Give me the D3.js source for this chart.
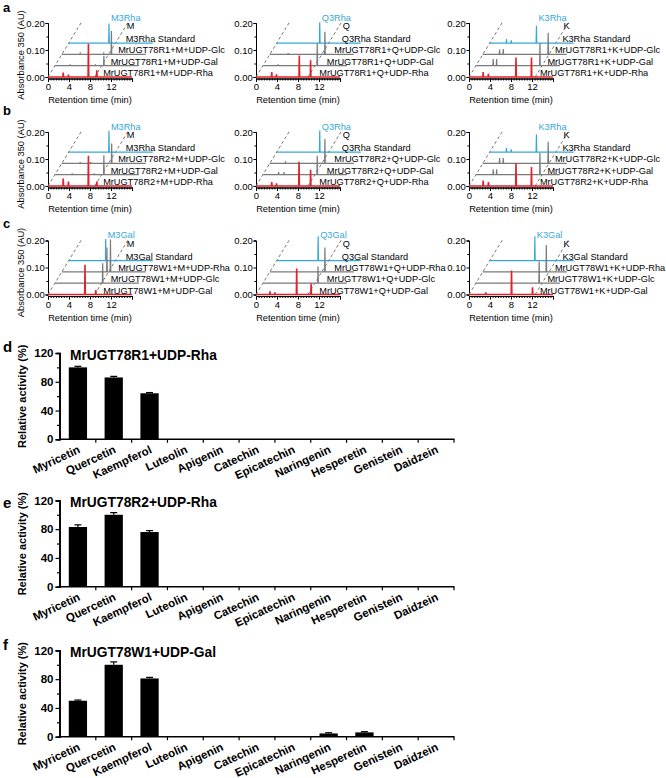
<!DOCTYPE html>
<html><head><meta charset="utf-8">
<script src="https://cdn.jsdelivr.net/npm/d3@7"></script>
<style>body{margin:0;background:#fff} text{font-family:"Liberation Sans",Arial,sans-serif}</style>
</head><body><svg id="c" width="666" height="778"></svg>
<script>
// ---------- chromatogram data ----------
const rowLetters = ["a","b","c"];
const enzymes = ["MrUGT78R1","MrUGT78R2","MrUGT78W1"];
const substrates = ["M","Q","K"];
const sugarLevels = [["Rha","Gal","Glc"],["Rha","Gal","Glc"],["Gal","Glc","Rha"]];
const productSugar = ["Rha","Rha","Gal"];
const timeTicks = [0,4,8,12];
const absTicks = [0,0.1,0.2];
const absTickLabels = ["0.00","0.10","0.20"];
// each: [level0 red reaction, level1 gray, level2 gray, level3 blue standard]; peaks as [time (min), absorbance (AU)]
const peaksA_M = [[[2.9,0.016],[3.9,0.009],[7.7,0.123],[9.3,0.025]],[[2.9,0.005],[7.7,0.005],[9.33,0.037]],[[3.5,0.004],[8.0,0.004],[9.45,0.087]],[[7.67,0.073]]];
const peaksA_Q = [[[3.0,0.018],[3.9,0.01],[8.25,0.08],[10.4,0.062]],[[2.9,0.005],[10.35,0.084]],[[3.5,0.005],[10.5,0.084]],[[8.2,0.077]]];
const peaksA_K = [[[2.7,0.018],[3.7,0.012],[8.95,0.072],[11.9,0.072]],[[3.3,0.025],[3.95,0.025],[12.2,0.084]],[[3.2,0.018],[3.9,0.02],[12.45,0.08]],[[3.2,0.015],[4.1,0.01],[8.9,0.064]]];
const peaksB_M = [[[2.9,0.028],[3.9,0.016],[7.7,0.112],[9.3,0.016]],[[3.3,0.005],[7.5,0.005],[9.33,0.072]],[[3.5,0.005],[5.5,0.005],[9.5,0.074]],[[7.67,0.079]]];
const peaksB_Q = [[[3.0,0.015],[3.9,0.01],[8.2,0.09],[10.4,0.06]],[[3.0,0.01],[4.0,0.01],[10.35,0.07]],[[3.0,0.008],[10.5,0.09]],[[8.2,0.08]]];
const peaksB_K = [[[2.7,0.02],[3.7,0.015],[8.95,0.085],[11.9,0.07]],[[3.3,0.02],[3.95,0.02],[12.2,0.08]],[[3.2,0.02],[3.9,0.02],[12.45,0.08]],[[3.2,0.015],[4.1,0.01],[8.9,0.065]]];
const peaksC_M = [[[7.05,0.11],[9.1,0.016]],[[9.1,0.074]],[[8.6,0.09],[9.27,0.12]],[[7.05,0.08]]];
const peaksC_Q = [[[2.67,0.012],[3.6,0.008],[7.75,0.096],[10.5,0.041]],[[10.5,0.062]],[[10.5,0.09]],[[7.9,0.09]]];
const peaksC_K = [[[3.2,0.008],[8.1,0.089],[12.1,0.027]],[[12.05,0.08]],[[12.1,0.1]],[[8.6,0.09]]];
const dashTimes = [[0,8.9],[0,9.9],[0,12.6]];
const labelTimes = [10.5,12.05,13.5];

// ---------- bar chart data ----------
const compounds = ["Myricetin","Quercetin","Kaempferol","Luteolin","Apigenin","Catechin","Epicatechin","Naringenin","Hesperetin","Genistein","Daidzein"];
const activityR1 = [100,86,64,0,0,0,0,0,0,0,0];
const errorR1 = [1.5,1.5,1,0,0,0,0,0,0,0,0];
const activityR2 = [83,100,76,0,0,0,0,0,0,0,0];
const errorR2 = [3,3,2,0,0,0,0,0,0,0,0];
const activityW1 = [50,100,81,0,0,0,0,4.5,6,0,0];
const errorW1 = [1,4,1.5,0,0,0,0,1,1,0,0];
const barTitles = ["MrUGT78R1+UDP-Rha","MrUGT78R2+UDP-Rha","MrUGT78W1+UDP-Gal"];
const barLetters = ["d","e","f"];
const activityTicks = [0,40,80,120];

// ---------- drawing ----------
const svg = d3.select("#c");
const RED = "#e2222a", GRAY = "#7a7a7a", BLUE = "#34a9d8";
const levelColors = [RED, GRAY, GRAY, BLUE];
const rowBase = [77, 186, 294.5];
const colX0 = [48, 256, 469];
const DX = 6.9, DY = 11.3, LDX = 7.5;
const chromPeaks = [[peaksA_M,peaksA_Q,peaksA_K],[peaksB_M,peaksB_Q,peaksB_K],[peaksC_M,peaksC_Q,peaksC_K]];

function drawChrom(r, c) {
  const base = rowBase[r], x0 = colX0[c];
  const x = d3.scaleLinear().domain([0,16]).range([x0, x0+84]);
  const y = d3.scaleLinear().domain([0,0.2]).range([base, base-54]);
  const g = svg.append("g");
  // y axis
  const ya = g.append("g").attr("transform",`translate(${x0},0)`)
    .call(d3.axisLeft(y).tickValues(absTicks).tickFormat((d,i)=>absTickLabels[i]).tickSize(2.5).tickPadding(0.8));
  ya.selectAll("text").attr("font-size",9.5).attr("font-family","Liberation Sans, Arial");
  g.append("g").attr("transform",`translate(${x0},0)`)
    .call(d3.axisLeft(y).tickValues([0.05,0.15]).tickFormat("").tickSize(1.6));
  // x axis
  const xa = g.append("g").attr("transform",`translate(0,${base+1.5})`)
    .call(d3.axisBottom(x).tickValues(timeTicks.concat([16])).tickFormat(d=> d<16? d : "").tickSize(3.5).tickPadding(1.5));
  xa.selectAll("text").attr("font-size",9.5).attr("font-family","Liberation Sans, Arial");
  g.append("g").attr("transform",`translate(0,${base+1.5})`)
    .call(d3.axisBottom(x).tickValues(d3.range(0,16.01,0.5)).tickFormat("").tickSize(2));
  g.selectAll(".domain").attr("stroke","#000").attr("stroke-width",1);
  g.selectAll(".tick line").attr("stroke","#000");
  // dashed guides
  dashTimes[c].forEach(t => {
    g.append("line").attr("x1",x(t)).attr("y1",y(0))
      .attr("x2",x(t)+4.9*DX).attr("y2",y(0)-4.9*DY)
      .attr("stroke","#666").attr("stroke-width",0.9).attr("stroke-dasharray","3,2.5");
  });
  // traces (back to front)
  const peaks = chromPeaks[r][c];
  for (let L = 3; L >= 0; L--) {
    const pts = [[0,0]];
    peaks[L].slice().sort((a,b)=>a[0]-b[0]).forEach(p => { pts.push([p[0]-0.06,0],[p[0],p[1]],[p[0]+0.06,0]); });
    pts.push([16,0]);
    const line = d3.line().x(d=>x(d[0])+L*DX).y(d=>y(d[1])-L*DY);
    g.append("path").attr("d",line(pts)).attr("fill","none")
      .attr("stroke",levelColors[L]).attr("stroke-width",L===0?1.6:1.2);
  }
  // labels
  const lx = x(labelTimes[c]);
  const sub = substrates[c];
  for (let L = 0; L < 3; L++) {
    g.append("text").attr("x",lx+L*LDX).attr("y",base-L*DY-1)
      .attr("font-size",9.2).text(`${enzymes[r]}+${sub}+UDP-${sugarLevels[r][L]}`);
  }
  g.append("text").attr("x",lx+3*LDX).attr("y",base-3*DY-1).attr("font-size",9.2)
    .text(`${sub}3${productSugar[r]} Standard`);
  g.append("text").attr("x",lx+3*LDX+1).attr("y",base-4*DY-2.5).attr("font-size",9.2).text(sub);
  const stdPeak = peaks[3].reduce((a,b)=> b[1]>a[1]?b:a);
  g.append("text").attr("x",x(stdPeak[0])+3*DX+2).attr("y",base-56.5).attr("font-size",9.2)
    .attr("fill",BLUE).text(`${sub}3${productSugar[r]}`);
  // axis titles
  g.append("text").attr("x",(x0+x0+84)/2).attr("y",base+26).attr("text-anchor","middle")
    .attr("font-size",9.3).text("Retention time (min)");
  if (c === 0) {
    g.append("text").attr("transform",`translate(24,${base-22}) rotate(-90)`).attr("text-anchor","middle")
      .attr("font-size",9.3).text("Absorbance 350 (AU)");
    g.append("text").attr("x",3).attr("y",[12,115,228][r]).attr("font-size",13).attr("font-weight","bold").text(rowLetters[r]);
  }
}
for (let r = 0; r < 3; r++) for (let c = 0; c < 3; c++) drawChrom(r, c);

// bar charts
const barBase = [439.3, 586.7, 736.7];
const barVals = [activityR1, activityR2, activityW1];
const barErrs = [errorR1, errorR2, errorW1];
const letterY = [352, 508, 650];
function drawBars(i) {
  const y0 = barBase[i];
  const x = d3.scaleBand().domain(compounds).range([60, 454]).paddingInner(0.49).paddingOuter(0.245);
  const y = d3.scaleLinear().domain([0,120]).range([y0, y0-86.3]);
  const g = svg.append("g");
  const data = compounds.map((c,k)=>({c, v: barVals[i][k], e: barErrs[i][k]}));
  g.selectAll("rect").data(data.filter(d=>d.v>0)).join("rect")
    .attr("x",d=>x(d.c)).attr("width",x.bandwidth())
    .attr("y",d=>y(d.v)).attr("height",d=>y0-y(d.v)).attr("fill","#000");
  const eb = data.filter(d=>d.e>0);
  g.selectAll("line.err").data(eb).join("line").attr("class","err")
    .attr("x1",d=>x(d.c)+x.bandwidth()/2).attr("x2",d=>x(d.c)+x.bandwidth()/2)
    .attr("y1",d=>y(d.v)).attr("y2",d=>y(d.v+d.e)).attr("stroke","#000").attr("stroke-width",1.2);
  g.selectAll("line.cap").data(eb).join("line").attr("class","cap")
    .attr("x1",d=>x(d.c)+x.bandwidth()/2-3.5).attr("x2",d=>x(d.c)+x.bandwidth()/2+3.5)
    .attr("y1",d=>y(d.v+d.e)).attr("y2",d=>y(d.v+d.e)).attr("stroke","#000").attr("stroke-width",1.2);
  // y axis
  const ya = g.append("g").attr("transform","translate(59.5,0)")
    .call(d3.axisLeft(y).tickValues(activityTicks).tickSize(4).tickPadding(2));
  ya.selectAll("text").attr("font-size",11.5).attr("font-weight","bold").attr("font-family","Liberation Sans, Arial");
  g.append("g").attr("transform","translate(59.5,0)").call(d3.axisLeft(y).tickValues([20,60,100]).tickFormat("").tickSize(2.5));
  // x axis
  g.append("line").attr("x1",59.5).attr("x2",454.5).attr("y1",y0).attr("y2",y0).attr("stroke","#000").attr("stroke-width",1.6);
  const step = x.step();
  g.selectAll("line.xt").data(compounds).join("line").attr("class","xt")
    .attr("x1",d=>x(d)+x.bandwidth()+(step-x.bandwidth())/2)
    .attr("x2",d=>x(d)+x.bandwidth()+(step-x.bandwidth())/2)
    .attr("y1",y0).attr("y2",y0+3.5).attr("stroke","#000").attr("stroke-width",1.2);
  g.selectAll(".domain").attr("stroke-width",1.6);
  g.selectAll(".tick line").attr("stroke-width",1.2);
  g.selectAll("text.cat").data(compounds).join("text").attr("class","cat")
    .attr("transform",d=>`translate(${x(d)+x.bandwidth()/2+3},${y0+13}) rotate(-25)`)
    .attr("text-anchor","end").attr("font-size",11.5).attr("font-weight","bold").text(d=>d);
  g.append("text").attr("x",70).attr("y",y0-79.5).attr("font-size",13.8).attr("font-weight","bold").text(barTitles[i]);
  g.append("text").attr("transform",`translate(26,${y0-43}) rotate(-90)`).attr("text-anchor","middle")
    .attr("font-size",11).attr("font-weight","bold").text("Relative activity (%)");
  g.append("text").attr("x",3).attr("y",letterY[i]).attr("font-size",15).attr("font-weight","bold").text(barLetters[i]);
}
for (let i = 0; i < 3; i++) drawBars(i);
</script></body></html>
